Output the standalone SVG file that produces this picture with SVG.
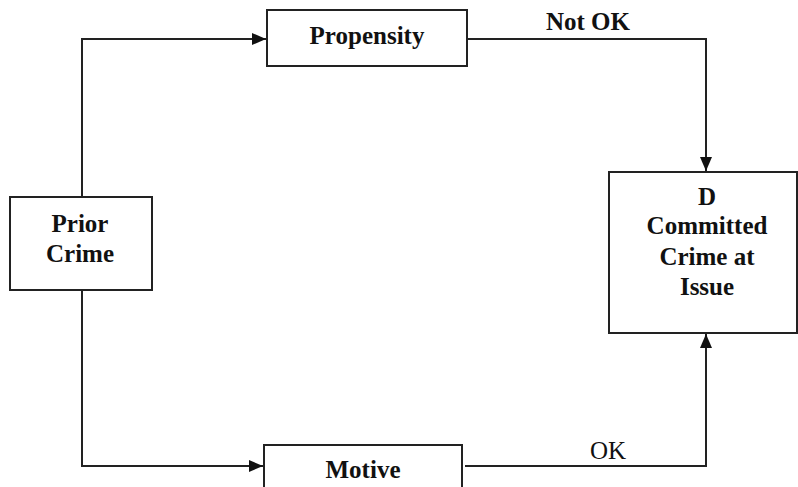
<svg xmlns="http://www.w3.org/2000/svg" width="798" height="487" viewBox="0 0 798 487">
<style>
.box{fill:#fff;stroke:#222;stroke-width:2}
.ln{fill:none;stroke:#222;stroke-width:2}
text{font-family:'Liberation Serif','DejaVu Serif',serif;font-size:25px;font-weight:bold;fill:#111;text-anchor:middle}
text.r{font-weight:normal}
</style>
<defs>
<marker id="a" viewBox="0 0 14 12" refX="14" refY="6" markerWidth="14" markerHeight="12" markerUnits="userSpaceOnUse" orient="auto">
<path d="M0,0 L14,6 L0,12 z" fill="#111"/>
</marker>
</defs>
<g id="connectors">
<path class="ln" d="M82,197 V39 H266" marker-end="url(#a)"/>
<path class="ln" d="M467,39 H706 V171" marker-end="url(#a)"/>
<path class="ln" d="M82,290 V466 H263" marker-end="url(#a)"/>
<path class="ln" d="M465,466 H706 V334" marker-end="url(#a)"/>
<text font-family="Liberation Serif, serif" x="588" y="30">Not OK</text>
<text class="r" font-family="Liberation Serif, serif" x="608" y="459">OK</text>
</g>
<g id="propensity">
<rect class="box" x="267" y="10" width="200" height="56"/>
<text font-family="Liberation Serif, serif" x="367" y="44">Propensity</text>
</g>
<g id="prior-crime">
<rect class="box" x="10" y="197" width="142" height="93"/>
<text font-family="Liberation Serif, serif" x="80" y="232">Prior</text>
<text font-family="Liberation Serif, serif" x="80" y="262">Crime</text>
</g>
<g id="d-committed">
<rect class="box" x="609" y="172" width="188" height="161"/>
<text font-family="Liberation Serif, serif" x="707" y="205">D</text>
<text font-family="Liberation Serif, serif" x="707" y="234">Committed</text>
<text font-family="Liberation Serif, serif" x="707" y="265">Crime at</text>
<text font-family="Liberation Serif, serif" x="707" y="295">Issue</text>
</g>
<g id="motive">
<rect class="box" x="264" y="445" width="198" height="60"/>
<text font-family="Liberation Serif, serif" x="363" y="478">Motive</text>
</g>
</svg>
